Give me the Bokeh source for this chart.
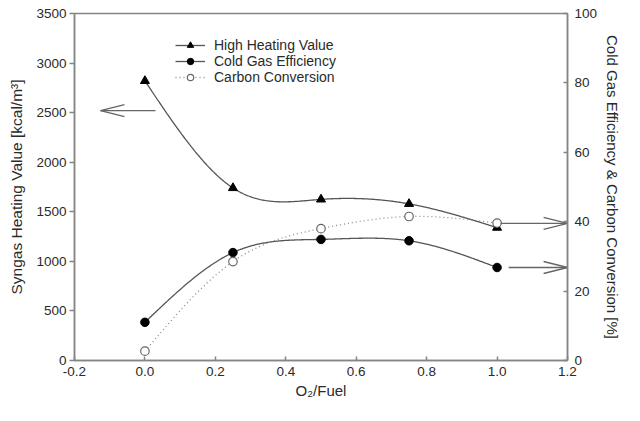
import numpy as np
from bokeh.plotting import figure
from bokeh.models import Range1d, LinearAxis, FixedTicker, Legend, LegendItem
from bokeh.embed import file_html
from bokeh.resources import INLINE

# ---- data ----
o2_fuel = [0.0, 0.25, 0.5, 0.75, 1.0]
hhv = [2820, 1740, 1625, 1580, 1340]           # kcal/m3 (left axis)
cge = [11.0, 31.1, 34.9, 34.5, 26.8]           # % (right axis)
cc = [2.7, 28.5, 38.0, 41.5, 39.6]             # % (right axis)

x_ticks = [-0.2, 0.0, 0.2, 0.4, 0.6, 0.8, 1.0, 1.2]
x_tick_labels = ["-0.2", "0.0", "0.2", "0.4", "0.6", "0.8", "1.0", "1.2"]
left_ticks = [0, 500, 1000, 1500, 2000, 2500, 3000, 3500]
right_ticks = [0, 20, 40, 60, 80, 100]

# arrows: (tail_x, tip_x, y)
left_arrow = (0.03, -0.126, 2520)
right_arrows_tail = [1.01, 1.033]
right_arrows_y = [39.5, 26.8]
right_arrow_tip = 1.2

W, H = 624, 405
BL, BR, BT, BB = 74, 55, 13, 45
FW, FH = W - BL - BR, H - BT - BB

XR = (-0.2, 1.2)
YL = (0, 3500)
YR = (0, 100)

FONT = "Liberation Sans"
TXT = "#2a2a2a"
AX = "#858585"
LINE = "#555555"


def natural_spline(x, y, n=300):
    x = np.asarray(x, float); y = np.asarray(y, float)
    k = len(x); h = np.diff(x)
    A = np.zeros((k, k)); b = np.zeros(k)
    A[0, 0] = A[-1, -1] = 1
    for i in range(1, k - 1):
        A[i, i - 1] = h[i - 1]; A[i, i] = 2 * (h[i - 1] + h[i]); A[i, i + 1] = h[i]
        b[i] = 6 * ((y[i + 1] - y[i]) / h[i] - (y[i] - y[i - 1]) / h[i - 1])
    M = np.linalg.solve(A, b)
    xs = np.linspace(x[0], x[-1], n); ys = np.empty_like(xs)
    for j, t in enumerate(xs):
        i = min(np.searchsorted(x, t, side="right") - 1, k - 2)
        a, c = x[i], x[i + 1]; hh = c - a
        ys[j] = (M[i] * (c - t) ** 3 / (6 * hh) + M[i + 1] * (t - a) ** 3 / (6 * hh)
                 + (y[i] / hh - M[i] * hh / 6) * (c - t) + (y[i + 1] / hh - M[i + 1] * hh / 6) * (t - a))
    return xs, ys


p = figure(width=W, height=H, output_backend="svg", toolbar_location=None,
           x_range=Range1d(*XR), y_range=Range1d(*YL),
           min_border_left=BL, min_border_right=BR, min_border_top=BT, min_border_bottom=BB)
p.extra_y_ranges = {"pct": Range1d(*YR)}
p.grid.visible = False
p.outline_line_color = AX
p.outline_line_width = 1.5
p.background_fill_color = "white"
p.border_fill_color = "white"

# axes styling
xa = p.xaxis[0]
xa.ticker = FixedTicker(ticks=x_ticks)
xa.major_label_overrides = dict(zip(x_ticks, x_tick_labels))
xa.axis_label = "O\u2082/Fuel"
xa.major_tick_in = 4; xa.major_tick_out = 0
xa.major_label_standoff = 6
xa.axis_label_standoff = 3

ya = p.yaxis[0]
ya.ticker = FixedTicker(ticks=left_ticks)
ya.axis_label = "Syngas Heating Value [kcal/m\u00b3]"
ya.major_tick_in = 0; ya.major_tick_out = 5
ya.major_label_standoff = 3
ya.axis_label_standoff = 8

ra = LinearAxis(y_range_name="pct", ticker=FixedTicker(ticks=right_ticks),
                axis_label="Cold Gas Efficiency & Carbon Conversion [%]")
ra.major_tick_in = 4; ra.major_tick_out = 0
ra.major_label_standoff = 7
ra.axis_label_standoff = 4
p.add_layout(ra, "right")

for a in [xa, ya, ra]:
    a.axis_line_color = AX; a.axis_line_width = 1.5
    a.major_tick_line_color = AX; a.major_tick_line_width = 1.5
    a.minor_tick_line_color = None
    a.major_label_text_font = FONT; a.major_label_text_font_size = "13.5px"
    a.major_label_text_color = TXT
    a.axis_label_text_font = FONT; a.axis_label_text_font_size = "15px"
    a.axis_label_text_font_style = "normal"; a.axis_label_text_color = TXT
ya.major_label_orientation = "horizontal"
ra.major_label_orientation = "horizontal"
ya.axis_label_text_font_size = "15.5px"

# curves
sx, sy = natural_spline(o2_fuel, hhv)
l1 = p.line(sx, sy, line_color=LINE, line_width=1.3)
m1 = p.scatter(o2_fuel, hhv, marker="triangle", size=9, fill_color="black", line_color="black")

sx, sy = natural_spline(o2_fuel, cge)
l2 = p.line(sx, sy, line_color=LINE, line_width=1.3, y_range_name="pct")
m2 = p.scatter(o2_fuel, cge, marker="circle", size=8.5, fill_color="black", line_color="black", y_range_name="pct")

sx, sy = natural_spline(o2_fuel, cc)
l3 = p.line(sx, sy, line_color="#8a8a8a", line_width=1.3, line_dash="1 3", y_range_name="pct")
m3 = p.scatter(o2_fuel, cc, marker="circle", size=8.5, fill_color="white", line_color="#666666", line_width=1.2,
               y_range_name="pct")

# arrows (open long V heads)
HEAD_L, HEAD_W = 24, 6
dx_px = (XR[1] - XR[0]) / FW


def arrow(tail_x, tip_x, y, yr, rng):
    dy_px = (yr[1] - yr[0]) / FH
    sgn = 1 if tip_x > tail_x else -1
    bx = tip_x - sgn * HEAD_L * dx_px
    xs = [[tail_x, tip_x], [bx, tip_x, bx]]
    ys = [[y, y], [y + HEAD_W * dy_px, y, y - HEAD_W * dy_px]]
    kw = {} if rng is None else {"y_range_name": rng}
    p.multi_line(xs, ys, line_color="#666666", line_width=1.3, **kw)


arrow(left_arrow[0], left_arrow[1], left_arrow[2], YL, None)
for tx, yy in zip(right_arrows_tail, right_arrows_y):
    arrow(tx, right_arrow_tip, yy, YR, "pct")

legend = Legend(items=[
    LegendItem(label="High Heating Value", renderers=[l1, m1]),
    LegendItem(label="Cold Gas Efficiency", renderers=[l2, m2]),
    LegendItem(label="Carbon Conversion", renderers=[l3, m3]),
], location=(101, 275))
legend.padding = 0; legend.margin = 0; legend.spacing = 0
legend.border_line_alpha = 0; legend.background_fill_alpha = 0
legend.glyph_width = 30; legend.glyph_height = 16; legend.label_height = 16
legend.label_standoff = 9
legend.label_text_font = FONT; legend.label_text_font_size = "14px"; legend.label_text_color = TXT
p.add_layout(legend, "center")

open("out.html", "w").write(file_html(p, INLINE))
